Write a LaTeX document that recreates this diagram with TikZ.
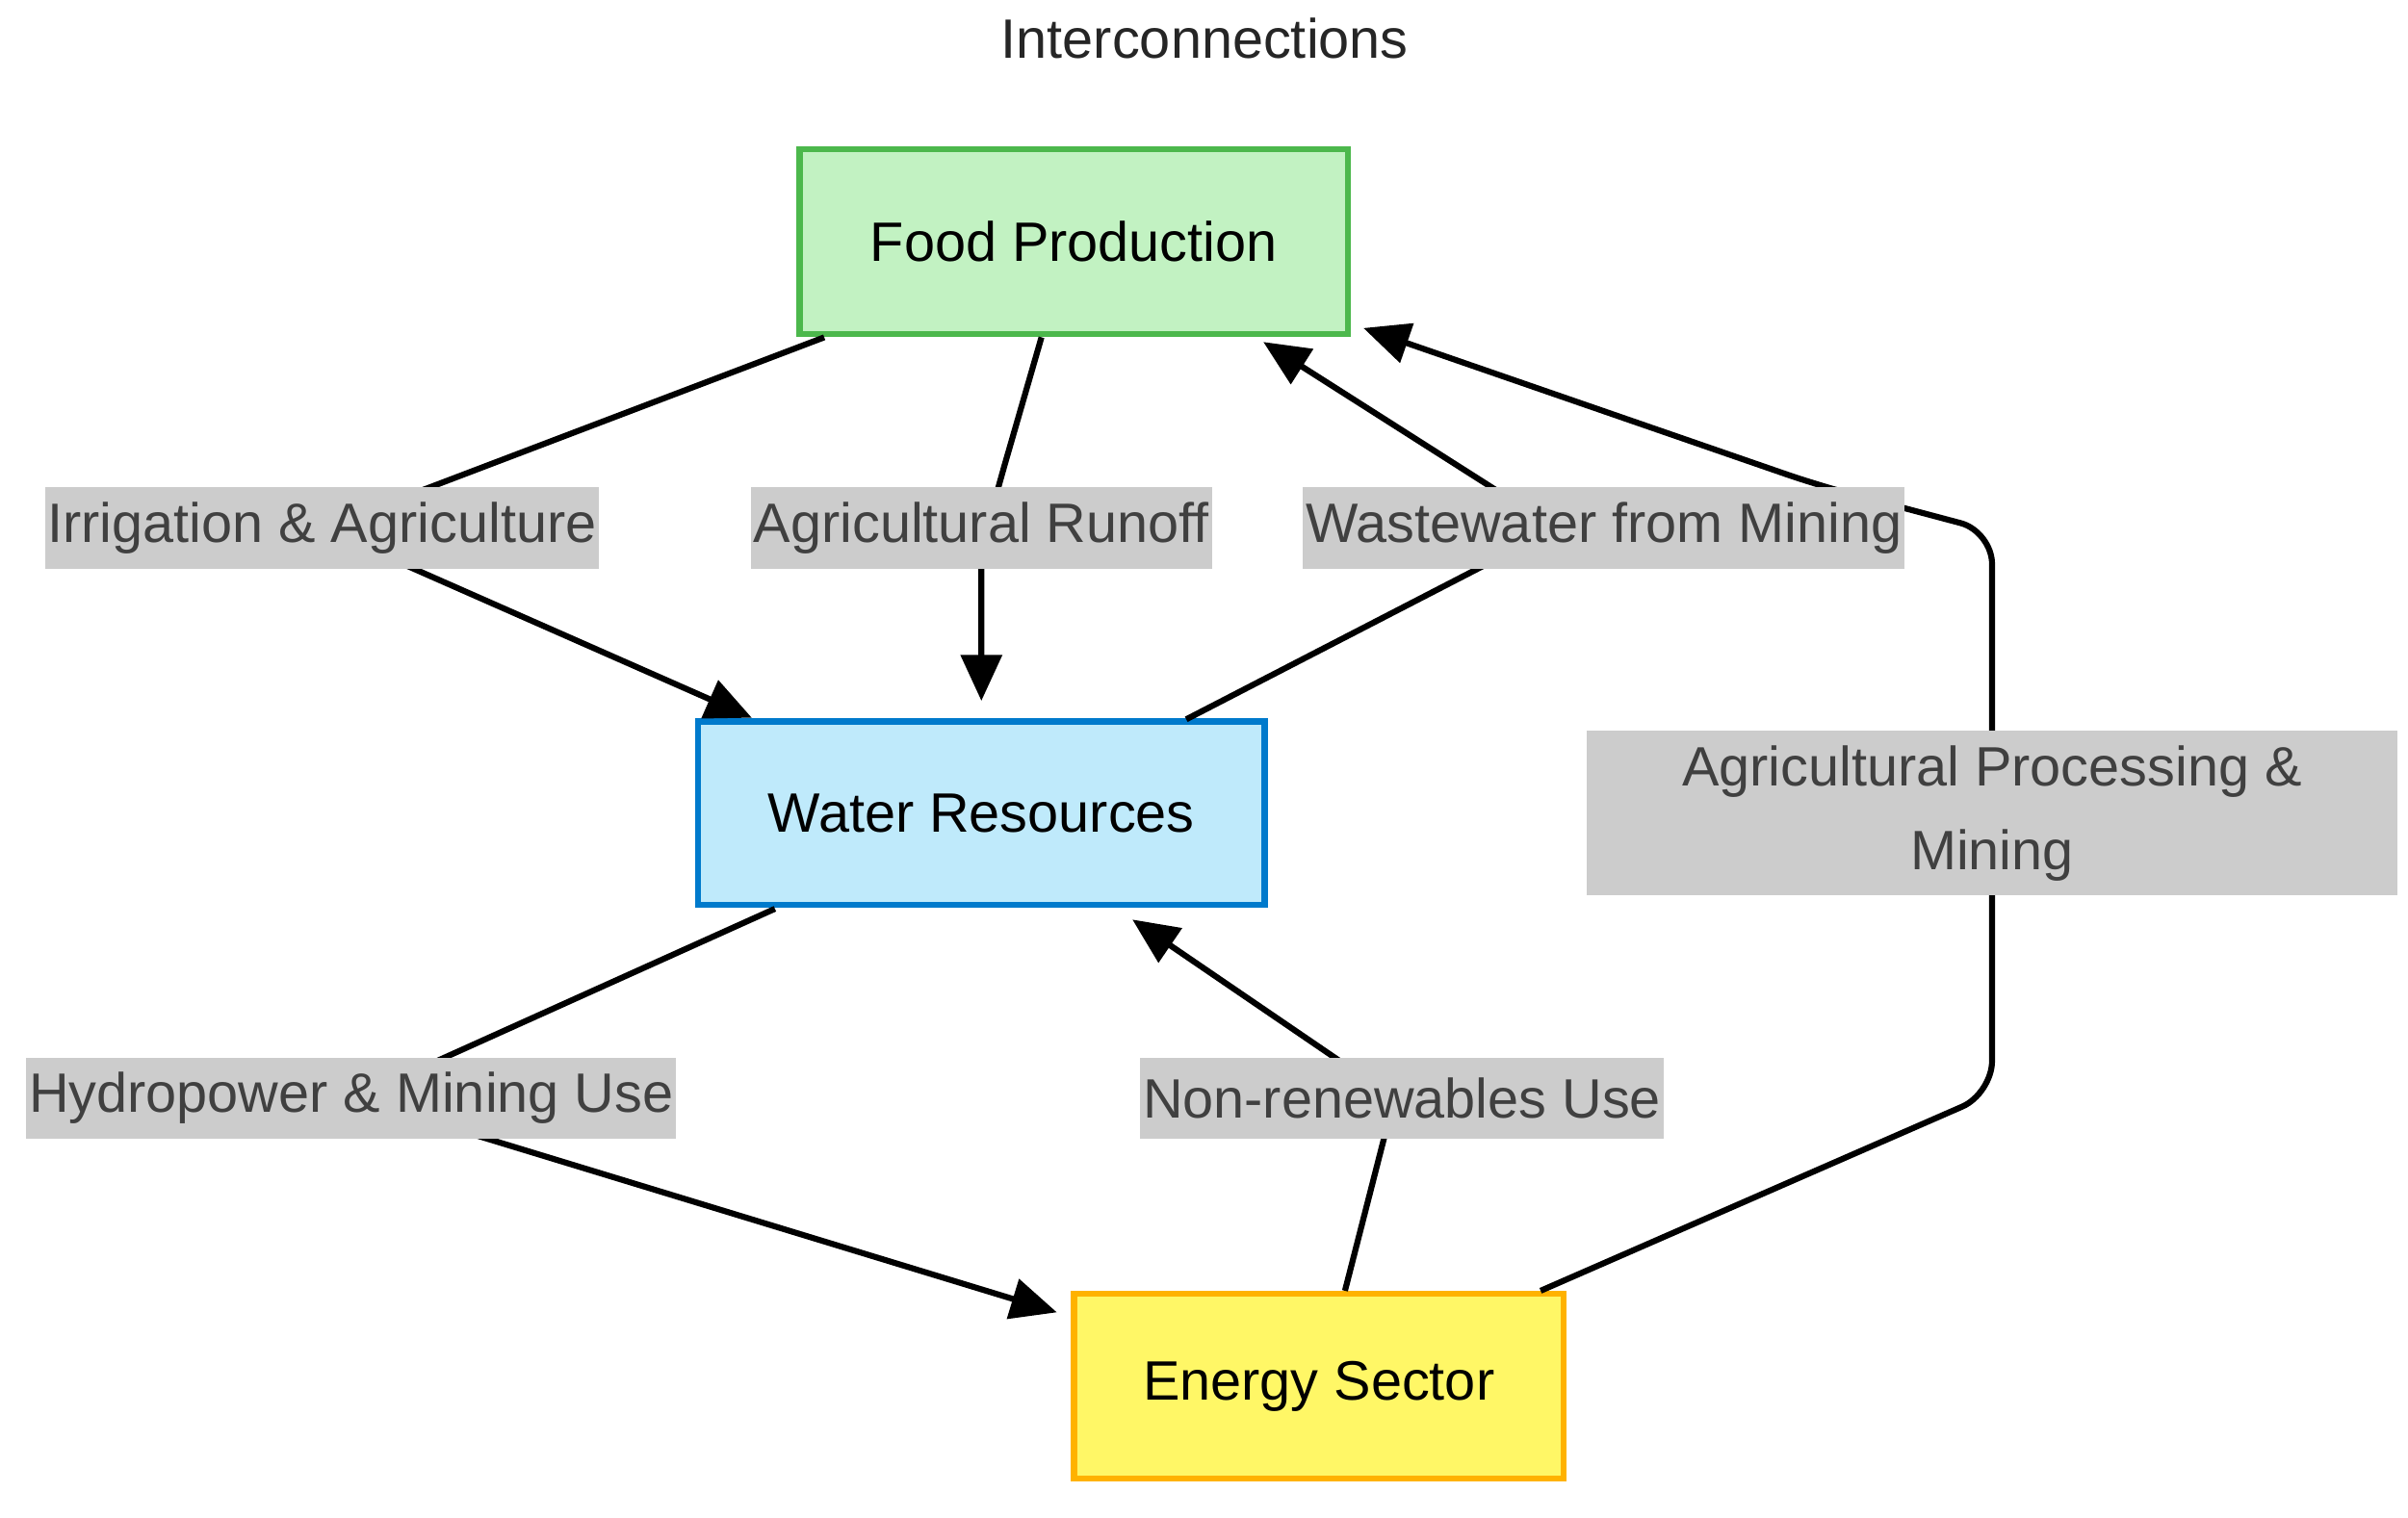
\documentclass[tikz,border=0pt]{standalone}
\usepackage{fontspec}
\setmainfont{Liberation Sans}
\usetikzlibrary{arrows.meta}
\definecolor{lblgray}{HTML}{CCCCCC}
\definecolor{lbltext}{HTML}{404040}
\begin{document}
\begin{tikzpicture}[x=0.02cm,y=-0.02cm,
  box/.style={draw,line width=2.3pt,minimum width=#1,inner sep=0pt},
  lbl/.style={fill=lblgray,text=lbltext,inner xsep=1pt,minimum height=1.06cm,font=\fontsize{20.5}{31}\selectfont},
  conn/.style={line width=2.2pt,rounded corners=12pt},
  arr/.style={conn,-{Triangle[length=17pt,width=15pt]}}]
\useasboundingbox (0,0) rectangle (1563,985);
\node[font=\fontsize{20.5}{24}\selectfont,text=black!85] (title) at (782,25) {Interconnections};
\node[box,draw=green!60!black!70,fill=green!20!white!95!black,minimum width=7.12cm,minimum height=2.4cm,font=\fontsize{20.5}{24}\selectfont] (food) at (697,157) {Food Production};
\node[box,draw=blue!40!cyan!80!black,fill=cyan!25,minimum width=7.36cm,minimum height=2.38cm,font=\fontsize{20.5}{24}\selectfont] (water) at (637,528) {Water Resources};
\node[box,draw=orange!60!yellow,fill=yellow!60,minimum width=6.36cm,minimum height=2.4cm,font=\fontsize{20.5}{24}\selectfont] (energy) at (856,900) {Energy Sector};
\coordinate (a1) at (535,219);\coordinate (a2) at (488,466);
\coordinate (b1) at (676,219);\coordinate (b2) at (637,455);
\coordinate (c1) at (770,467);\coordinate (c2) at (820,222);
\coordinate (d1) at (1000,838);\coordinate (d2) at (885,213);
\coordinate (e1) at (503,590);\coordinate (e2) at (686,852);
\coordinate (f1) at (873,838);\coordinate (f2) at (735,597);
\coordinate (l1) at (209,343);\coordinate (l3) at (1010,343);
\coordinate (l5) at (230,713);\coordinate (l6) at (905,713);
\draw[arr] (a1) -- (l1) -- (a2);
\draw[arr] (b1) -- (648,316) to[out=-105,in=90] (637,390) -- (b2);
\draw[arr] (c1) -- (l3) -- (c2);
\draw[arr] (d1) -- (1293,710) -- (1293,345) -- (1180,315) -- (d2);
\draw[arr] (e1) -- (l5) -- (e2);
\draw[arr] (f1) -- (l6) -- (f2);
\node[lbl] (t1) at (209,343) {Irrigation \& Agriculture};
\node[lbl] (t2) at (637,343) {Agricultural Runoff};
\node[lbl] (t3) at (1041,343) {Wastewater from Mining};
\node[lbl,minimum width=10.52cm,minimum height=2.14cm,align=center] (t4) at (1293,528) {Agricultural Processing \&\\Mining};
\node[lbl] (t5) at (228,713) {Hydropower \& Mining Use};
\node[lbl] (t6) at (910,713) {Non-renewables Use};
\end{tikzpicture}
\end{document}
